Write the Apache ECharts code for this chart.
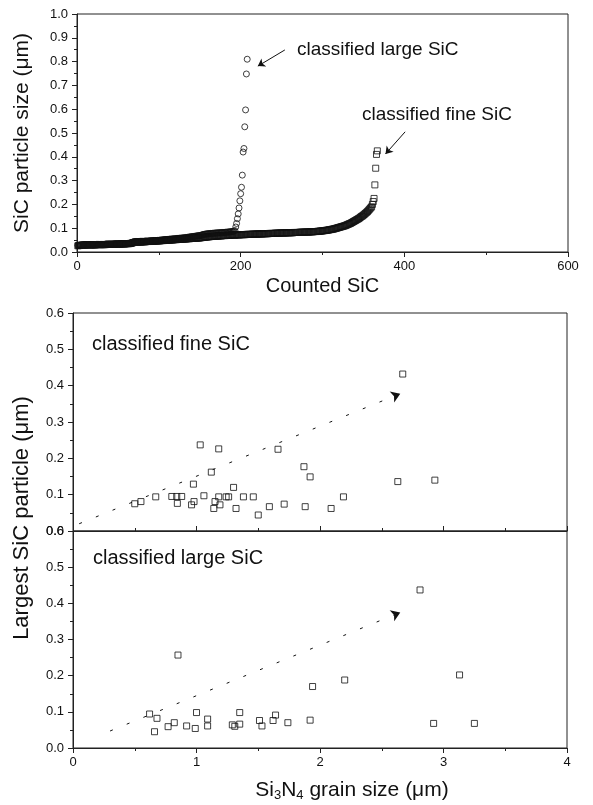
<!DOCTYPE html>
<html>
<head>
<meta charset="utf-8">
<script src="https://cdn.jsdelivr.net/npm/echarts@6/dist/echarts.min.js"></script>
<style>
  html, body { margin: 0; background: #fff; }
  #chart { width: 593px; height: 805px; }
</style>
</head>
<body>
<div id="chart"></div>
<script>
// sorted SiC particle sizes (um), plotted against their count index
var largeSize = [
  0.028,0.028,0.029,0.029,0.029,0.030,0.030,0.030,0.030,0.030,
  0.030,0.030,0.031,0.031,0.031,0.031,0.031,0.031,0.031,0.031,
  0.031,0.031,0.031,0.032,0.032,0.032,0.032,0.032,0.032,0.032,
  0.032,0.032,0.032,0.032,0.033,0.033,0.033,0.033,0.033,0.033,
  0.033,0.033,0.033,0.033,0.033,0.034,0.034,0.034,0.034,0.034,
  0.034,0.034,0.034,0.034,0.035,0.035,0.035,0.035,0.035,0.035,
  0.035,0.036,0.036,0.036,0.037,0.037,0.038,0.041,0.043,0.043,
  0.043,0.044,0.044,0.044,0.044,0.044,0.045,0.045,0.045,0.045,
  0.045,0.045,0.046,0.046,0.046,0.046,0.046,0.046,0.047,0.047,
  0.047,0.047,0.047,0.048,0.048,0.048,0.048,0.049,0.049,0.049,
  0.050,0.050,0.050,0.051,0.051,0.051,0.052,0.052,0.052,0.053,
  0.053,0.053,0.054,0.054,0.054,0.055,0.055,0.055,0.056,0.056,
  0.056,0.057,0.057,0.057,0.058,0.058,0.058,0.059,0.059,0.059,
  0.060,0.060,0.061,0.061,0.062,0.062,0.063,0.063,0.064,0.064,
  0.065,0.065,0.066,0.066,0.067,0.067,0.068,0.068,0.069,0.069,
  0.070,0.071,0.072,0.073,0.074,0.075,0.075,0.076,0.076,0.077,
  0.077,0.077,0.078,0.078,0.078,0.079,0.079,0.079,0.080,0.080,
  0.080,0.080,0.081,0.081,0.081,0.081,0.082,0.082,0.082,0.082,
  0.083,0.083,0.083,0.084,0.084,0.084,0.085,0.085,0.086,0.086,
  0.087,0.088,
  0.090,0.105,0.120,0.140,0.160,0.185,0.215,0.245,0.272,0.323,
  0.420,0.435,0.526,0.597,0.748,0.810
];
var fineSize = [
  0.026,0.027,0.027,0.028,0.028,0.028,0.029,0.029,0.029,0.029,
  0.030,0.030,0.030,0.030,0.030,0.030,0.030,0.030,0.030,0.030,
  0.030,0.030,0.030,0.031,0.031,0.031,0.031,0.031,0.031,0.031,
  0.031,0.031,0.031,0.031,0.031,0.032,0.032,0.032,0.032,0.032,
  0.032,0.032,0.032,0.032,0.032,0.033,0.033,0.033,0.033,0.033,
  0.033,0.033,0.033,0.034,0.034,0.034,0.034,0.034,0.034,0.035,
  0.035,0.035,0.035,0.035,0.036,0.036,0.037,0.039,0.040,0.040,
  0.041,0.041,0.041,0.041,0.042,0.042,0.042,0.042,0.042,0.043,
  0.043,0.043,0.043,0.043,0.044,0.044,0.044,0.044,0.044,0.045,
  0.045,0.045,0.045,0.045,0.046,0.046,0.046,0.046,0.047,0.047,
  0.047,0.047,0.048,0.048,0.048,0.048,0.049,0.049,0.049,0.049,
  0.050,0.050,0.050,0.050,0.051,0.051,0.051,0.051,0.052,0.052,
  0.052,0.052,0.053,0.053,0.053,0.053,0.054,0.054,0.054,0.054,
  0.055,0.055,0.055,0.055,0.056,0.056,0.056,0.056,0.057,0.057,
  0.057,0.057,0.058,0.058,0.058,0.058,0.059,0.059,0.059,0.059,
  0.060,0.060,0.061,0.061,0.062,0.062,0.063,0.063,0.063,0.064,
  0.064,0.064,0.065,0.065,0.065,0.066,0.066,0.066,0.066,0.067,
  0.067,0.067,0.067,0.068,0.068,0.068,0.068,0.069,0.069,0.069,
  0.069,0.069,0.070,0.070,0.070,0.070,0.070,0.071,0.071,0.071,
  0.071,0.071,0.071,0.072,0.072,0.072,0.072,0.072,0.072,0.073,
  0.073,0.073,0.073,0.073,0.073,0.073,0.074,0.074,0.074,0.074,
  0.074,0.074,0.074,0.075,0.075,0.075,0.075,0.075,0.075,0.075,
  0.076,0.076,0.076,0.076,0.076,0.076,0.076,0.077,0.077,0.077,
  0.077,0.077,0.077,0.077,0.078,0.078,0.078,0.078,0.078,0.078,
  0.078,0.079,0.079,0.079,0.079,0.079,0.079,0.079,0.080,0.080,
  0.080,0.080,0.080,0.080,0.080,0.080,0.081,0.081,0.081,0.081,
  0.081,0.081,0.081,0.081,0.082,0.082,0.082,0.082,0.082,0.082,
  0.082,0.083,0.083,0.083,0.083,0.083,0.083,0.083,0.084,0.084,
  0.084,0.084,0.084,0.084,0.085,0.085,0.085,0.085,0.085,0.086,
  0.086,0.086,0.086,0.087,0.087,0.087,0.088,0.088,0.088,0.089,
  0.089,0.090,0.090,0.091,0.091,0.092,0.092,0.093,0.094,0.094,
  0.095,0.096,0.096,0.097,0.098,0.099,0.100,0.101,0.102,0.103,
  0.104,0.105,0.106,0.107,0.108,0.109,0.110,0.111,0.113,0.114,
  0.116,0.117,0.119,0.120,0.122,0.124,0.126,0.128,0.130,0.132,
  0.134,0.136,0.138,0.140,0.142,0.145,0.148,0.150,0.152,0.155,
  0.158,0.161,0.164,0.167,0.170,0.174,0.178,0.182,0.186,0.190,
  0.200,0.212,0.225,0.282,0.352,0.410,0.425
];

// largest SiC particle vs Si3N4 grain size
var fineGrain = [0.50,0.55,0.67,0.80,0.84,0.88,0.845,0.96,0.98,0.975,1.03,1.18,1.06,1.12,1.15,1.14,1.19,1.18,1.24,1.26,1.30,1.32,1.38,1.46,1.50,1.59,1.66,1.71,1.87,1.92,1.88,2.09,2.19,2.67,2.63,2.93];
var fineLargest = [0.075,0.081,0.094,0.095,0.095,0.095,0.076,0.072,0.081,0.129,0.237,0.226,0.097,0.162,0.081,0.062,0.072,0.094,0.094,0.094,0.120,0.062,0.094,0.094,0.044,0.067,0.225,0.074,0.177,0.149,0.067,0.062,0.094,0.432,0.136,0.140];
var largeGrain = [0.62,0.68,0.66,0.77,0.82,0.85,0.92,0.99,1.00,1.09,1.09,1.29,1.31,1.35,1.35,1.51,1.53,1.62,1.64,1.74,1.92,1.94,2.20,2.81,2.92,3.13,3.25];
var largeLargest = [0.094,0.082,0.045,0.059,0.070,0.257,0.061,0.054,0.098,0.080,0.061,0.064,0.060,0.066,0.098,0.076,0.061,0.076,0.091,0.070,0.077,0.170,0.188,0.437,0.068,0.202,0.068];

// guide lines (start, arrow tip) and label arrows, in data units
var fineTrend = [[0.05, 0.02], [2.65, 0.378]];
var largeTrend = [[0.30, 0.047], [2.65, 0.375]];
var largeArrow = [[254, 0.849], [221, 0.781]];
var fineArrow = [[401, 0.505], [377, 0.412]];

var FONT = 'Liberation Sans';
var INK = '#111';

function pairs(xs, ys) { return xs.map(function (x, i) { return [x, ys[i]]; }); }
function indexed(ys) { return ys.map(function (y, i) { return [i + 1, y]; }); }

function arrowLine(pts, dashed) {
  return {
    silent: true,
    symbol: ['none', 'arrow'],
    symbolSize: dashed ? 9 : 7,
    label: { show: false },
    lineStyle: { color: INK, width: 1, type: dashed ? [3, 15] : 'solid' },
    data: [[{ coord: pts[0] }, { coord: pts[1] }]]
  };
}

function marker(sym, size) {
  return {
    symbol: sym,
    symbolSize: size,
    itemStyle: { color: 'rgba(0,0,0,0)', borderColor: INK, borderWidth: 1 }
  };
}

var labelStyle = { color: INK, fontSize: 13, fontFamily: FONT };
var tickStyle = { color: '#222' };

function xAx(idx, min, max, interval, showLabels, name, gap, inside) {
  return {
    gridIndex: idx, type: 'value', min: min, max: max, interval: interval,
    axisLine: { lineStyle: { color: '#222', width: 1 } },
    axisTick: { show: true, inside: !!inside, length: 5, lineStyle: tickStyle },
    minorTick: { show: true, splitNumber: 2, length: 3, lineStyle: tickStyle },
    splitLine: { show: false },
    axisLabel: Object.assign({ show: showLabels, margin: 8 }, labelStyle),
    name: name, nameLocation: 'middle', nameGap: gap,
    nameTextStyle: { color: INK, fontSize: 20, fontFamily: FONT }
  };
}

function yAx(idx, max, name, gap) {
  return {
    gridIndex: idx, type: 'value', min: 0, max: max, interval: 0.1,
    axisLine: { lineStyle: { color: '#222', width: 1 } },
    axisTick: { show: true, length: 5, lineStyle: tickStyle },
    minorTick: { show: true, splitNumber: 2, length: 3, lineStyle: tickStyle },
    splitLine: { show: false },
    axisLabel: Object.assign({ margin: 9, formatter: function (v) { return v.toFixed(1); } }, labelStyle),
    name: name, nameLocation: 'middle', nameGap: gap,
    nameTextStyle: { color: INK, fontSize: 21, fontFamily: FONT }
  };
}

var chart = echarts.init(document.getElementById('chart'), null, { renderer: 'canvas' });
var gridBox = { show: true, borderColor: '#222', borderWidth: 1, backgroundColor: 'transparent' };
var annot = function (size) { return size + 'px "Liberation Sans"'; };

chart.setOption({
  animation: false,
  backgroundColor: '#fff',
  grid: [
    Object.assign({ left: 77, top: 14, width: 491, height: 238 }, gridBox),
    Object.assign({ left: 73, top: 313, width: 494, height: 218 }, gridBox),
    Object.assign({ left: 73, top: 531, width: 494, height: 217 }, gridBox)
  ],
  xAxis: [
    xAx(0, 0, 600, 200, true, 'Counted SiC', 24),
    xAx(1, 0, 4, 1, false, '', 0, true),
    xAx(2, 0, 4, 1, true, '', 0)
  ],
  yAxis: [
    yAx(0, 1.0, 'SiC particle size (μm)', 44),
    yAx(1, 0.6, '', 0),
    yAx(2, 0.6, '', 0)
  ],
  graphic: [
    { type: 'text', left: 297, top: 40, style: { text: 'classified large SiC', fill: INK, font: annot(19) } },
    { type: 'text', left: 362, top: 105, style: { text: 'classified fine SiC', fill: INK, font: annot(19) } },
    { type: 'text', left: 92, top: 334, style: { text: 'classified fine SiC', fill: INK, font: annot(20) } },
    { type: 'text', left: 93, top: 548, style: { text: 'classified large SiC', fill: INK, font: annot(20) } },
    {
      type: 'text', x: 22, y: 518, rotation: Math.PI / 2,
      style: { text: 'Largest SiC particle (μm)', fill: INK, font: annot(22), align: 'center', verticalAlign: 'middle' }
    },
    {
      type: 'text', x: 352, y: 790,
      style: {
        text: 'Si{s|3}N{s|4} grain size (μm)', fill: INK, font: annot(21),
        align: 'center', verticalAlign: 'middle',
        rich: { s: { fontSize: 13, fontFamily: FONT, fill: INK, padding: [11, 0, 0, 0] } }
      }
    }
  ],
  series: [
    Object.assign({
      type: 'scatter', xAxisIndex: 0, yAxisIndex: 0, silent: true,
      data: indexed(largeSize), markLine: arrowLine(largeArrow, false)
    }, marker('circle', 6)),
    Object.assign({
      type: 'scatter', xAxisIndex: 0, yAxisIndex: 0, silent: true,
      data: indexed(fineSize), markLine: arrowLine(fineArrow, false)
    }, marker('rect', 6)),
    Object.assign({
      type: 'scatter', xAxisIndex: 1, yAxisIndex: 1, silent: true,
      data: pairs(fineGrain, fineLargest), markLine: arrowLine(fineTrend, true)
    }, marker('rect', 6)),
    Object.assign({
      type: 'scatter', xAxisIndex: 2, yAxisIndex: 2, silent: true,
      data: pairs(largeGrain, largeLargest), markLine: arrowLine(largeTrend, true)
    }, marker('rect', 6))
  ]
});
</script>
</body>
</html>
